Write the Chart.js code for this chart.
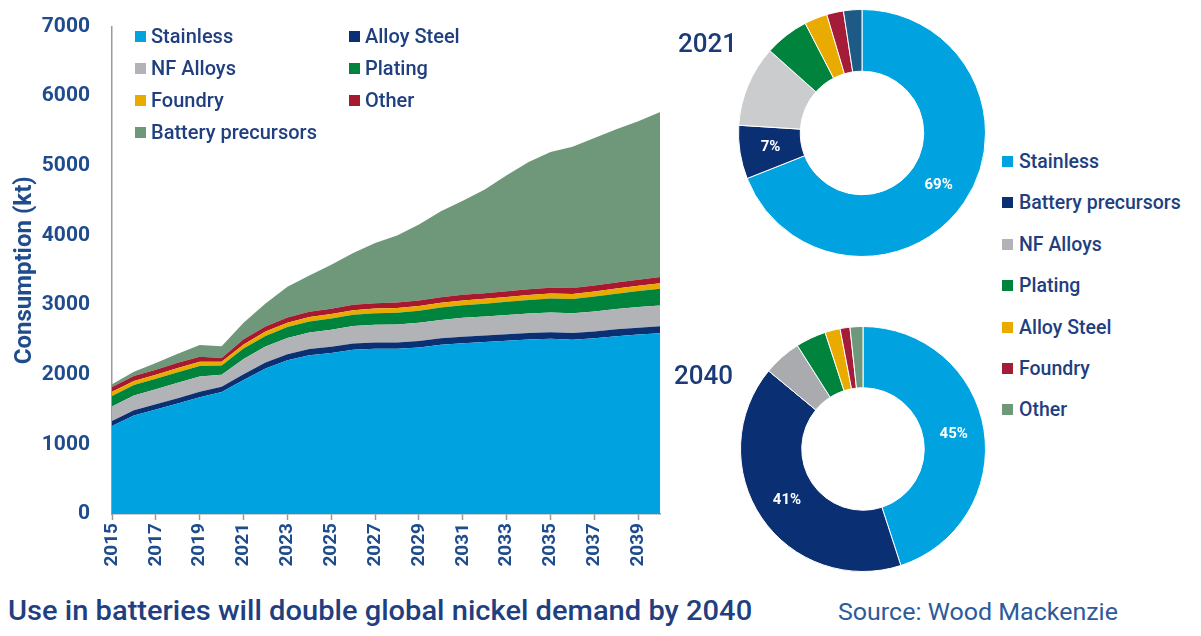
<!DOCTYPE html>
<html>
<head>
<meta charset="utf-8">
<script src="https://cdn.jsdelivr.net/npm/chart.js@4.4.1/dist/chart.umd.min.js"></script>
<style>
  body { margin:0; width:1201px; height:636px; background:#fff; position:relative; overflow:hidden; font-family: Roboto, "Noto Sans", sans-serif; }
  canvas { position:absolute; }
  #cArea { left:0; top:0; }
  #c2021 { left:738px; top:9px; }
  #c2040 { left:740px; top:326px; }
  .lg { position:absolute; display:flex; align-items:center; white-space:nowrap; color:#1f3f80; font-weight:500; }
  .lg i { display:inline-block; width:11px; height:11px; margin-right:5px; }
  .year { position:absolute; font-size:26px; font-weight:500; color:#1b3a78; line-height:1; }
  .foot { position:absolute; white-space:nowrap; transform-origin:0 50%; line-height:1; }
</style>
</head>
<body>
<canvas id="cArea" width="686" height="585"></canvas>
<canvas id="c2021" width="248" height="248"></canvas>
<canvas id="c2040" width="246" height="246"></canvas>
<div class="year" style="left:678px;top:30px">2021</div>
<div class="year" style="left:674px;top:362px">2040</div>
<div id="areaLegend"></div>
<div id="donutLegend"></div>
<span class="foot" id="caption" data-w="744" style="left:8px;top:598px;font-size:27px;font-weight:500;color:#1f3f80">Use in batteries will double global nickel demand by 2040</span>
<span class="foot" id="source" data-w="280" style="left:838px;top:600px;font-size:24px;font-weight:400;color:#2d5a9a">Source: Wood Mackenzie</span>
<script>
// Nickel consumption by end use, kt
const years = ['2015','2016','2017','2018','2019','2020','2021','2022','2023','2024','2025','2026','2027',
  '2028','2029','2030','2031','2032','2033','2034','2035','2036','2037','2038','2039','2040'];
const stainless = [1265,1416,1501,1586,1676,1751,1926,2091,2209,2280,2313,2360,2374,2374,2393,2431,2454,2469,2487,2506,2516,2502,2525,2554,2577,2596];
const alloySteel = [70,75,75,78,80,75,80,85,85,88,88,90,90,90,92,92,93,94,95,95,96,96,97,98,99,100];
const nfAlloys = [210,210,215,220,220,175,220,230,235,240,245,250,255,258,262,265,270,272,275,278,282,285,288,292,296,300];
const plating = [150,150,150,152,150,130,150,152,155,158,160,162,165,168,172,176,180,185,190,195,200,205,212,220,230,240];
const foundry = [60,60,60,62,60,55,60,62,63,64,65,65,66,67,68,69,70,70,71,72,72,73,74,75,76,78];
const other = [70,72,72,74,72,55,72,74,75,76,77,78,78,79,80,80,81,82,82,83,83,84,84,85,86,88];
const battery = [40,60,95,130,170,170,240,330,440,520,630,745,865,965,1090,1235,1350,1490,1665,1825,1950,2030,2120,2200,2275,2370];

const areaNames = ['Stainless','Alloy Steel','NF Alloys','Plating','Foundry','Other','Battery precursors'];
const areaColors = ['#00a3e0','#0b2f73','#b1b3b6','#00843d','#eaab00','#a6192e','#6f987b'];
const areaValues = [stainless, alloySteel, nfAlloys, plating, foundry, other, battery];

// Share of demand, %
const donutNames = ['Stainless','Battery precursors','NF Alloys','Plating','Alloy Steel','Foundry','Other'];
const share2021 = [69,7,10.6,5.8,3,2.2,2.4];
const share2040 = [45,41,5,4,2,1.3,1.7];
const colors2021 = ['#00a3e0','#0b2f73','#cbcccd','#00843d','#eaab00','#a51c38','#1d5a85'];
const colors2040 = ['#00a3e0','#0b2f73','#a9abae','#00843d','#eaab00','#a51c38','#6f987b'];
const labelledSlices = [0, 1];

const tickBlue = '#1f4c8c';
const axisGrey = '#9a9a9a';

new Chart(document.getElementById('cArea'), {
  type: 'line',
  data: {
    labels: years,
    datasets: areaValues.map((vals, i) => ({
      label: areaNames[i],
      data: vals,
      backgroundColor: areaColors[i],
      borderWidth: 0,
      pointRadius: 0,
      fill: i === 0 ? 'origin' : '-1',
      tension: 0
    }))
  },
  options: {
    responsive: false,
    animation: false,
    layout: { padding: { top: 8, right: 0, left: 0, bottom: 0 } },
    plugins: { legend: { display: false }, tooltip: { enabled: false } },
    scales: {
      x: {
        grid: {
          drawOnChartArea: false,
          tickLength: 6,
          tickWidth: 1.5,
          tickColor: ctx => (ctx.index % 2 ? 'rgba(0,0,0,0)' : axisGrey)
        },
        border: { color: axisGrey, width: 1.5 },
        ticks: {
          autoSkip: false, maxRotation: 90, minRotation: 90, padding: 3,
          color: tickBlue, font: { family: 'Roboto', size: 19, weight: 'bold' },
          callback: (v, i) => (i % 2 ? '' : years[i])
        },
        afterFit: s => { s.height = 71; }
      },
      y: {
        stacked: true, min: 0, max: 7000,
        grid: { display: false },
        border: { color: axisGrey, width: 1.5 },
        ticks: {
          stepSize: 1000, padding: 14,
          color: tickBlue, font: { family: 'Roboto', size: 21, weight: 'bold' },
          callback: v => String(v)
        },
        title: {
          display: true, text: 'Consumption (kt)', color: tickBlue,
          font: { family: 'Roboto', size: 24, weight: 'bold' }, padding: { top: 11, bottom: 0 }
        },
        afterFit: s => { s.width = 112; }
      }
    }
  }
});

// white percentage labels on the big slices
const sliceLabels = {
  id: 'sliceLabels',
  afterDatasetsDraw(chart) {
    const ctx = chart.ctx;
    const meta = chart.getDatasetMeta(0);
    const vals = chart.data.datasets[0].data;
    ctx.save();
    ctx.fillStyle = '#fff';
    ctx.font = 'bold 15px Roboto';
    ctx.textAlign = 'center';
    ctx.textBaseline = 'middle';
    labelledSlices.forEach(i => {
      const p = meta.data[i].tooltipPosition();
      ctx.fillText(vals[i] + '%', p.x, p.y);
    });
    ctx.restore();
  }
};

function donut(id, shares, colors) {
  new Chart(document.getElementById(id), {
    type: 'doughnut',
    data: {
      labels: donutNames,
      datasets: [{ data: shares, backgroundColor: colors, borderColor: '#fff', borderWidth: 1 }]
    },
    options: {
      responsive: false,
      animation: false,
      cutout: '50%',
      plugins: { legend: { display: false }, tooltip: { enabled: false } }
    },
    plugins: [sliceLabels]
  });
}
donut('c2021', share2021, colors2021);
donut('c2040', share2040, colors2040);

// legends
const areaLegend = document.getElementById('areaLegend');
const areaSpots = [[135,36],[349,36],[135,68],[349,68],[135,100],[349,100],[135,132]];
areaNames.forEach((name, n) => {
  const el = document.createElement('div');
  el.className = 'lg';
  el.style.cssText = `left:${areaSpots[n][0]}px;top:${areaSpots[n][1] - 12}px;height:24px;font-size:20px;`;
  el.innerHTML = `<i style="background:${areaColors[n]}"></i>${name}`;
  areaLegend.appendChild(el);
});

const donutLegend = document.getElementById('donutLegend');
const legendSwatch = ['#00a3e0','#0b2f73','#b1b3b6','#00843d','#eaab00','#a51c38','#6f987b'];
donutNames.forEach((name, i) => {
  const el = document.createElement('div');
  el.className = 'lg';
  el.style.cssText = `left:1002px;top:${161.5 + i * 41.4 - 12}px;height:24px;font-size:19.5px;`;
  el.innerHTML = `<i style="background:${legendSwatch[i]};margin-right:6px"></i>${name}`;
  donutLegend.appendChild(el);
});

// squeeze footer text to its set width
document.querySelectorAll('.foot').forEach(el => {
  const w = el.getBoundingClientRect().width;
  el.style.transform = `scaleX(${(+el.dataset.w / w).toFixed(3)})`;
});
</script>
</body>
</html>
